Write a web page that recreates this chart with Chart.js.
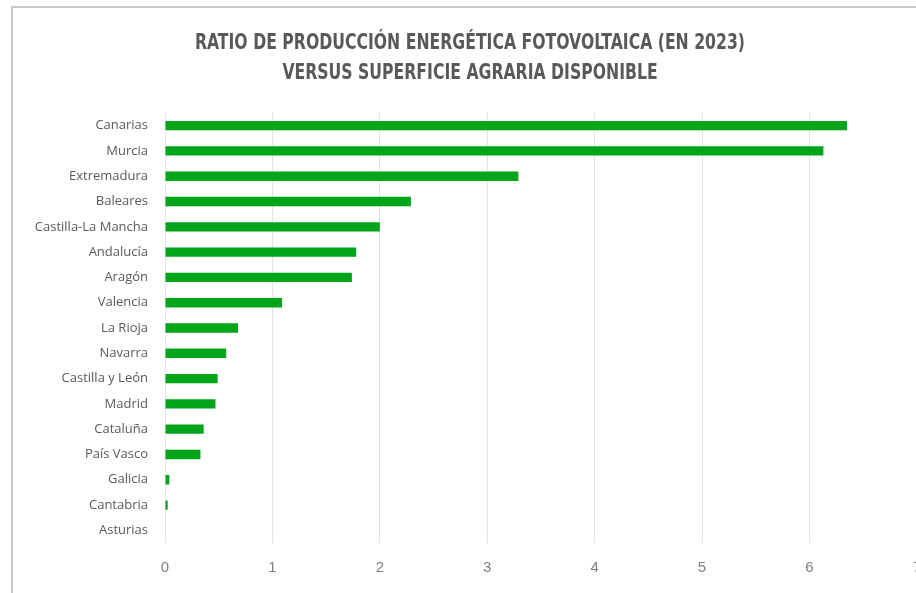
<!DOCTYPE html>
<html>
<head>
<meta charset="utf-8">
<script src="https://cdn.jsdelivr.net/npm/chart.js@4/dist/chart.umd.min.js"></script>
<style>
  html, body { margin: 0; padding: 0; background: #fff; }
  #wrap { position: relative; width: 916px; height: 593px; overflow: hidden; }
  #frame { position: absolute; left: 11px; top: 6px; width: 1000px; height: 700px;
           border-left: 2px solid #c8c8c8; border-top: 2px solid #c8c8c8; }
  canvas { position: absolute; left: 0; top: 0; }
  #title { position: absolute; left: 0; top: 27px; width: 940px; text-align: center;
           font-family: 'DejaVu Sans Condensed', 'DejaVu Sans', sans-serif; font-weight: bold;
           font-size: 20.5px; line-height: 30px; color: #595959;
           transform: scaleX(0.85); transform-origin: 470px 0; }
</style>
</head>
<body>
<div id="wrap">
  <div id="frame"></div>
  <canvas id="myChart" width="937" height="593"></canvas>
  <div id="title"></div>
</div>
<script>
// Regions (sorted as in the picture) and their ratio values
const regions = ['Canarias', 'Murcia', 'Extremadura', 'Baleares', 'Castilla-La Mancha',
    'Andalucía', 'Aragón', 'Valencia', 'La Rioja', 'Navarra', 'Castilla y León',
    'Madrid', 'Cataluña', 'País Vasco', 'Galicia', 'Cantabria', 'Asturias'];
const ratios = [6.35, 6.13, 3.29, 2.29, 2.0, 1.78, 1.74, 1.09, 0.68, 0.57, 0.49,
    0.47, 0.36, 0.33, 0.04, 0.025, 0.005];
const titleLines = ['RATIO DE PRODUCCIÓN ENERGÉTICA FOTOVOLTAICA (EN 2023)',
    'VERSUS SUPERFICIE AGRARIA DISPONIBLE'];
const xMin = 0;
const xMax = 7;

// Title as real text above the canvas
document.getElementById('title').innerHTML = titleLines.join('<br>');

const ctx = document.getElementById('myChart').getContext('2d');
const chart = new Chart(ctx, {
    type: 'bar',
    data: {
        labels: regions,
        datasets: [{
            data: ratios,
            backgroundColor: '#00a519',
            borderWidth: 0,
            barPercentage: 0.37,
            categoryPercentage: 1
        }]
    },
    options: {
        indexAxis: 'y',
        responsive: false,
        animation: false,
        layout: {
            autoPadding: false,
            padding: { left: 24, right: 1, top: 113, bottom: 0 }
        },
        plugins: {
            legend: { display: false },
            tooltip: { enabled: false },
            title: { display: false }
        },
        scales: {
            x: {
                min: xMin,
                max: xMax,
                ticks: {
                    stepSize: 1,
                    color: '#7f7f7f',
                    font: { family: "'Liberation Sans', Arial, sans-serif", size: 15 },
                    padding: 16
                },
                grid: { color: '#e4e4e4', drawTicks: false },
                border: { display: false },
                afterFit: scale => { scale.height = 50; }
            },
            y: {
                ticks: {
                    color: '#595959',
                    font: { family: "'Open Sans', 'Noto Sans', sans-serif", size: 13 },
                    padding: 17
                },
                grid: { display: false, drawTicks: false },
                border: { display: false },
                afterFit: scale => { scale.width = 141; }
            }
        }
    }
});
</script>
</body>
</html>
